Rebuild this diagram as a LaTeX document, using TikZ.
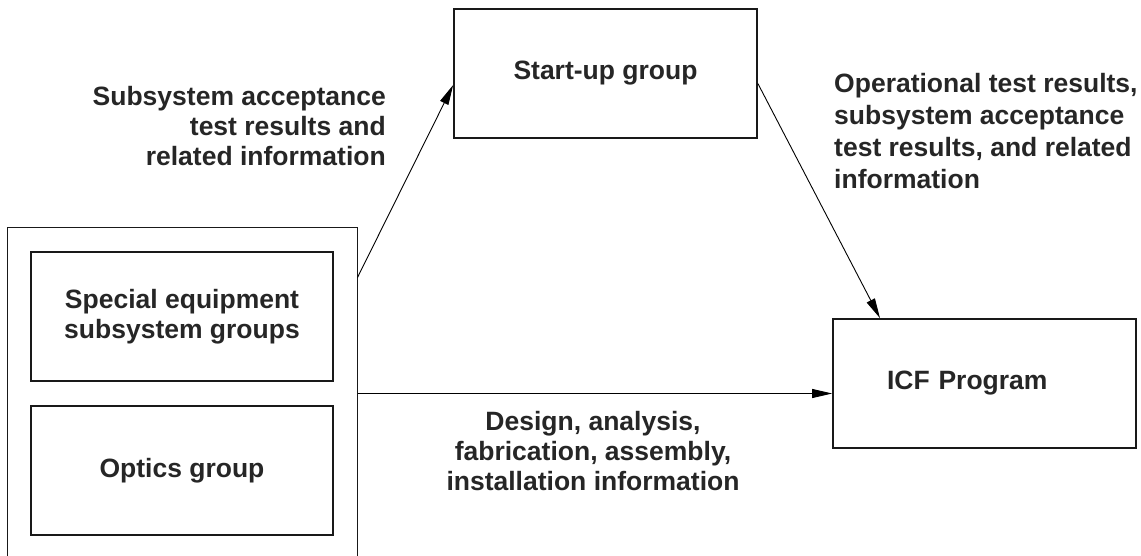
\documentclass[tikz,border=0pt]{standalone}
\usepackage{fontspec}
\setmainfont{Liberation Sans}
\usetikzlibrary{positioning, arrows.meta}

\begin{document}
\begin{tikzpicture}[
    x=1pt, y=-1pt,
    % cajas de los grupos: borde grueso, texto en negrita
    gbox/.style={
        rectangle,
        draw=black!90,
        line width=1.7pt,
        minimum width=303pt,
        minimum height=129pt,
        align=center,
        font=\fontsize{26.5}{30}\selectfont\bfseries,
        text=black!85
    },
    info/.style={inner sep=0pt, font=\fontsize{26.5}{30}\selectfont\bfseries, text=black!85},
    arr/.style={-{Triangle[length=20pt,width=9pt]}, line width=0.9pt, draw=black}
]
    \useasboundingbox (0,0) rectangle (1141,555);
    \clip (0,0) rectangle (1141,555);

    % --- GRUPOS DE ORIGEN ---
    \node[draw=black!90, line width=1pt, minimum width=350pt, minimum height=333pt] (outer) at (182,393.5) {};
    \node[gbox, minimum width=302pt] (special) at (182,316.5) {Special equipment\\subsystem groups};
    \node[gbox, minimum width=302pt, below=23pt of special] (optics) {Optics group};

    % --- DESTINOS ---
    \node[gbox] (startup) at (605.5,73.5) {Start-up group};
    \node[gbox, align=left, text width=195pt, inner xsep=54pt] (icf) at (984.5,383.5) {ICF Program};

    % --- CONEXIONES ---
    \draw[arr] ([yshift=-51pt]outer.north east) -- ([yshift=-11.5pt]startup.west);
    \draw[arr] ([yshift=-10pt]startup.east) -- ([xshift=-104.5pt]icf.north);
    \draw[arr] (outer.east) -- (outer.east -| icf.west);

    % --- TEXTOS DE LA INFORMACION (anclados en la linea base de la ultima fila) ---
    \node[info, align=right, anchor=base east] (txtaccept) at (386,165)
        {Subsystem acceptance\\test results and\\related information};
    \node[info, align=left, anchor=base west, font=\fontsize{26.5}{32}\selectfont\bfseries] (txtoper) at (834,188)
        {Operational test results,\\subsystem acceptance\\test results, and related\\information};
    \node[info, align=center, anchor=base] (txtdesign) at (593,490)
        {Design, analysis,\\fabrication, assembly,\\installation information};
\end{tikzpicture}
\end{document}
